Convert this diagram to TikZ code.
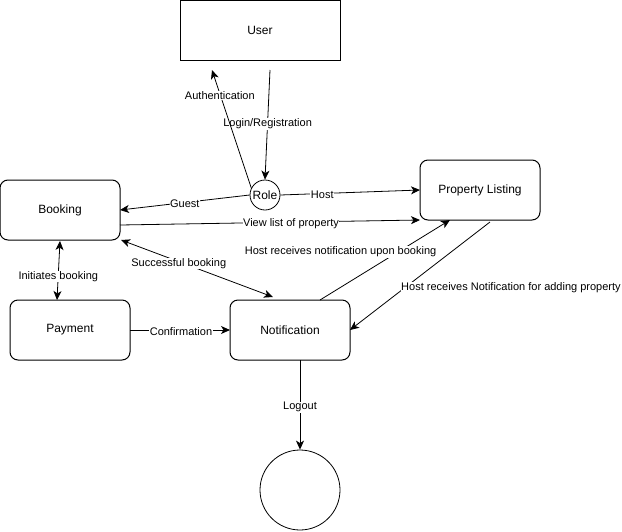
\documentclass[tikz,border=0pt]{standalone}
\usepackage{fontspec}
\setmainfont{Liberation Sans}
\usetikzlibrary{arrows.meta,positioning,calc}
\definecolor{edge}{gray}{0.0}
\tikzset{
  box/.style={draw,line width=1pt,minimum width=120pt,minimum height=60pt,inner sep=0pt,outer sep=0pt,font=\fontsize{12}{14}\selectfont},
  rbox/.style={box,rounded corners=8pt},
  flow/.style={draw=edge,line width=0.8pt,-{Stealth[length=9pt,width=8pt,inset=2.5pt]}},
  both/.style={{Stealth[length=9pt,width=8pt,inset=2.5pt]}-{Stealth[length=9pt,width=8pt,inset=2.5pt]}},
  lbl/.style={fill=white,inner sep=0.5pt,yshift=-1.5pt,font=\fontsize{11}{13}\selectfont}
}

\begin{document}
\begin{tikzpicture}[x=1pt,y=-1pt]
\useasboundingbox (0,0) rectangle (622,531);
\node[box,minimum width=160pt] (user) at (260,30) {User};
\node[draw,circle,line width=0.8pt,minimum size=30pt,inner sep=0pt,font=\fontsize{12}{14}\selectfont] (role) at (265,195) {Role};
\node[rbox] (booking) at (60,210) {Booking};
\node[rbox] (prop) at (480,190) {Property Listing};
\node[rbox] (pay) at (70,330) {Payment};
\node[rbox] (notif) at (290,330) {Notification};
\node[draw,circle,line width=0.8pt,minimum size=80pt,inner sep=0pt] (endc) at (300,490) {};
\coordinate (login) at (270,70);
\coordinate (auth) at (212,70);
\coordinate (hostout) at (490,222);
% edges
\draw[flow] (login) -- (role.north) node[lbl,pos=0.48] {Login/Registration};
\draw[flow] (role.153) -- (auth) node[lbl,pos=0.8] {Authentication};
\draw[flow] (role.west) -- (booking.east) node[lbl,pos=0.5] {Guest};
\draw[flow] (role.east) -- (prop.west) node[lbl,pos=0.3] {Host};
\draw[flow] ([yshift=-15pt]booking.east) -- ([yshift=-30pt]prop.west) node[lbl,pos=0.57] {View list of property};
\draw[flow,both] ([xshift=1pt]booking.south east) -- ([xshift=-17pt,yshift=3pt]notif.north) node[lbl,pos=0.38] {Successful booking};
\draw[flow] ([xshift=30pt]notif.north) -- ([xshift=-30pt]prop.south) node[lbl,pos=0.62,xshift=-60pt] {Host receives notification upon booking};
\draw[flow] (hostout) -- (notif.east) node[lbl,pos=0.593,xshift=104pt] {Host receives Notification for adding property};
\draw[flow,both] ([yshift=-1pt]booking.south) -- ([xshift=-13pt]pay.north) node[lbl,pos=0.58] {Initiates booking};
\draw[flow] (pay.east) -- (notif.west) node[lbl,pos=0.51] {Confirmation};
\draw[flow] ([xshift=10pt]notif.south) -- (endc.north) node[lbl,pos=0.51] {Logout};
\end{tikzpicture}
\end{document}
